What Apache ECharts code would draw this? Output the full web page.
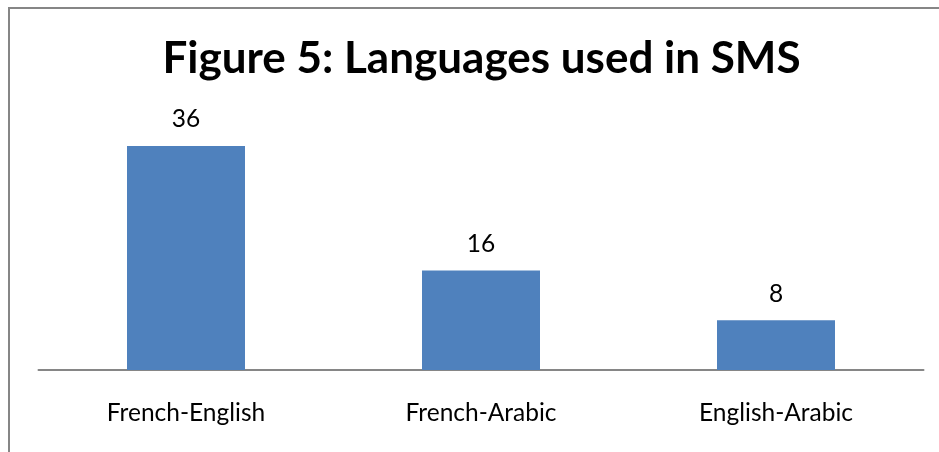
<!DOCTYPE html>
<html>
<head>
<meta charset="utf-8">
<script src="https://cdn.jsdelivr.net/npm/echarts@6/dist/echarts.min.js"></script>
<style>
  html, body { margin: 0; padding: 0; background: #fff; }
  #chart { width: 939px; height: 452px; }
</style>
</head>
<body>
<div id="chart"></div>
<script>
// Language pairs and the number of SMS using each
const categories = ['French-English', 'French-Arabic', 'English-Arabic'];
const counts = [36, 16, 8];

const chart = echarts.init(document.getElementById('chart'), null, { renderer: 'canvas' });
const font = 'Lato, "Open Sans", sans-serif';

chart.setOption({
  animation: false,
  backgroundColor: '#ffffff',
  graphic: [
    {
      // outer chart frame
      type: 'rect',
      shape: { x: 9, y: 8, width: 960, height: 480 },
      style: { fill: 'none', stroke: '#868686', lineWidth: 2 },
      silent: true
    },
    {
      // chart heading, centred over the plot area
      type: 'text',
      x: 481.5,
      y: 59,
      style: {
        text: 'Figure 5: Languages used in SMS',
        fill: '#000000',
        font: 'bold 44px ' + font,
        textAlign: 'center',
        textVerticalAlign: 'middle'
      },
      silent: true
    }
  ],
  grid: { left: 38.5, right: 15.5, top: 146, bottom: 82, containLabel: false },
  xAxis: {
    type: 'category',
    data: categories,
    axisLine: { lineStyle: { color: '#868686', width: 2 } },
    axisTick: { show: false },
    axisLabel: { fontFamily: font, fontSize: 24.5, color: '#000000', margin: 31 }
  },
  yAxis: {
    type: 'value',
    min: 0,
    max: 36,
    show: false,
    splitLine: { show: false }
  },
  series: [{
    type: 'bar',
    data: counts,
    barWidth: '40%',
    itemStyle: { color: '#4f81bd' },
    label: {
      show: true,
      position: 'top',
      distance: 14,
      fontFamily: font,
      fontSize: 24.5,
      color: '#000000'
    }
  }]
});
</script>
</body>
</html>
